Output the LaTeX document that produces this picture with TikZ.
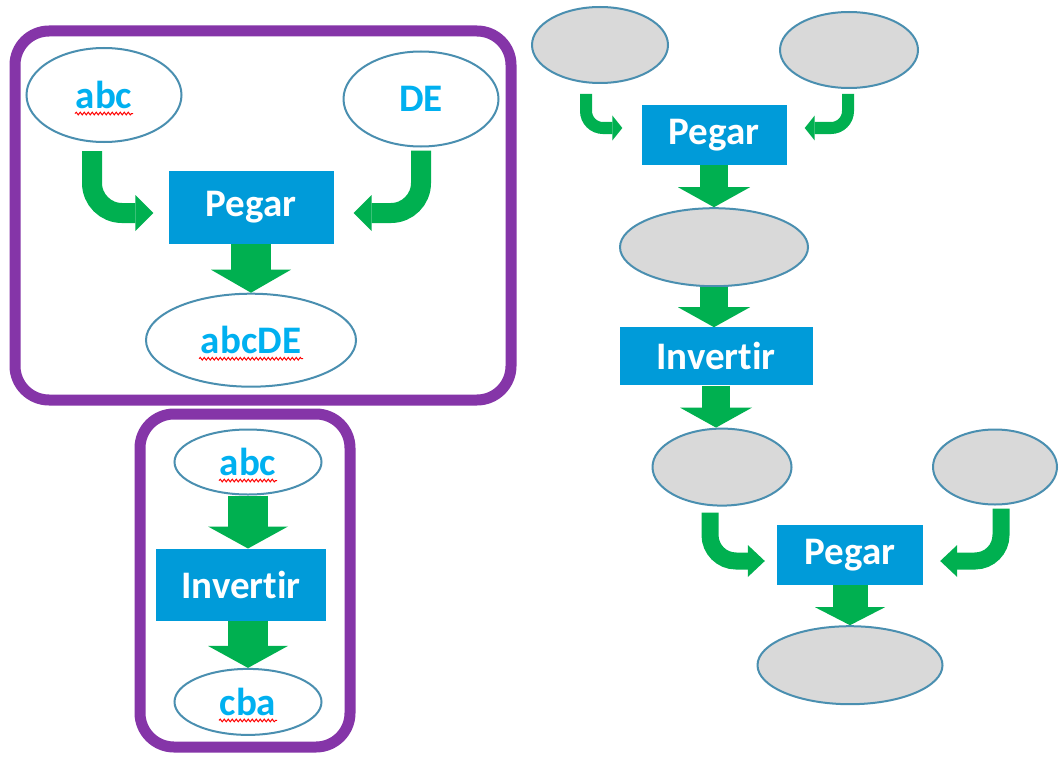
\documentclass[tikz,border=0pt]{standalone}
\usepackage{fontspec}
\setmainfont{Carlito}[Ligatures=NoCommon]
\usetikzlibrary{shapes.geometric, arrows.meta, positioning, decorations.pathmorphing}
\definecolor{frameviolet}{HTML}{8535A8}
\definecolor{boxblue}{HTML}{009BD9}
\definecolor{arrowgreen}{HTML}{00B050}
\definecolor{textcyan}{HTML}{00B0F0}
\definecolor{ovalline}{HTML}{4A8FB0}
\definecolor{ovalgrey}{HTML}{D9D9D9}

\begin{document}
\begin{tikzpicture}[
    x=1pt, y=-1pt,
    every node/.style={font=\fontsize{39}{44}\selectfont\bfseries},
    group/.style={draw=frameviolet, line width=11pt, rounded corners=34pt},
    oval/.style={ellipse, draw=ovalline, line width=2pt, fill=white, text=textcyan, inner sep=0pt},
    blank/.style={oval, fill=ovalgrey},
    process/.style={rectangle, fill=boxblue, text=white, inner sep=0pt},
    fatarrow/.style n args={3}{draw=arrowgreen, line width=#1,
        -{Triangle[length=#2 0 0, width=#3 0 0, line width=0pt 0 0]}},
    bentarrow/.style n args={4}{fatarrow={#1}{#2}{#3}, rounded corners=#4},
    spell/.style={draw=red, line width=1pt, decorate,
        decoration={snake, amplitude=1.3pt, segment length=4pt}},
]
\fill[white] (0,0) rectangle (1059,757);
\useasboundingbox (0,0) rectangle (1059,757);

% Frames
\draw[group] (15,31) rectangle (511,400);
\draw[group] (140,414) rectangle (350,747);

% Pegar example
\node[oval, minimum width=155pt, minimum height=94pt] (abcA) at (104,95) {abc};
\node[oval, minimum width=155pt, minimum height=95pt] (deA) at (421,99) {DE};
\node[process, minimum width=165pt, minimum height=73pt] (pegarA) at (251,207) {Pegar};
\node[oval, below=49pt of pegarA, minimum width=210pt, minimum height=93pt] (abcdeA) {abcDE};

% Invertir example
\node[oval, minimum width=147pt, minimum height=65pt] (abcB) at (248,462) {abc};
\node[process, below=53pt of abcB, xshift=-7pt, minimum width=170pt, minimum height=72pt] (invB) {Invertir};
\node[oval, below=47pt of invB, xshift=7pt, minimum width=147pt, minimum height=66pt] (cbaB) {cba};

% Blank chain
\node[blank, minimum width=136pt, minimum height=76pt] (topL) at (600,45) {};
\node[blank, minimum width=138pt, minimum height=76pt] (topR) at (849,50) {};
\node[process, minimum width=145pt, minimum height=60pt] (pegarC) at (714,135) {Pegar};
\node[blank, below=42pt of pegarC, minimum width=188pt, minimum height=78pt] (midC) {};
\node[process, below=40pt of midC, xshift=2pt, minimum width=193pt, minimum height=58pt] (invC) {Invertir};
\node[blank, below=42pt of invC, xshift=6pt, minimum width=139pt, minimum height=77pt] (lowL) {};
\node[blank, minimum width=124pt, minimum height=75pt] (lowR) at (995,467) {};
\node[process, minimum width=146pt, minimum height=60pt] (pegarD) at (850,555) {Pegar};
\node[blank, below=40pt of pegarD, minimum width=185pt, minimum height=78pt] (endD) {};

% Spelling marks
\draw[spell] ([xshift=-29pt,yshift=-5pt]abcA.base) -- ([xshift=29pt,yshift=-5pt]abcA.base);
\draw[spell] ([xshift=-52pt,yshift=-5pt]abcdeA.base) -- ([xshift=52pt,yshift=-5pt]abcdeA.base);
\draw[spell] ([xshift=-29pt,yshift=-5pt]abcB.base) -- ([xshift=29pt,yshift=-5pt]abcB.base);
\draw[spell] ([xshift=-29pt,yshift=-5pt]cbaB.base) -- ([xshift=29pt,yshift=-5pt]cbaB.base);

% Arrows
\draw[bentarrow={20pt}{18pt}{36pt}{30pt}, shorten <=8pt, shorten >=15pt] ([xshift=-12pt]abcA.south) |- ([yshift=-6pt]pegarA.west);
\draw[bentarrow={20pt}{18pt}{36pt}{30pt}, shorten <=3pt, shorten >=20pt] (deA.south) |- ([yshift=-6pt]pegarA.east);
\draw[fatarrow={40pt}{23pt}{80pt}] (pegarA) -- (abcdeA);

\draw[fatarrow={40pt}{22pt}{80pt}] (abcB.south) -- (abcB.south |- invB.north);
\draw[fatarrow={40pt}{22pt}{80pt}] (cbaB.north |- invB.south) -- (cbaB.north);

\draw[bentarrow={12pt}{10pt}{25pt}{17pt}, shorten <=10pt, shorten >=19pt] ([xshift=-14pt]topL.south) |- ([yshift=7pt]pegarC.west);
\draw[bentarrow={12pt}{10pt}{25pt}{17pt}, shorten <=5pt, shorten >=18pt] ([xshift=-1pt]topR.south) |- ([yshift=7pt]pegarC.east);
\draw[fatarrow={28pt}{20pt}{72pt}] (pegarC) -- (midC);
\draw[fatarrow={28pt}{20pt}{72pt}] (midC.south) -- (midC.south |- invC.north);
\draw[fatarrow={28pt}{20pt}{72pt}] (invC.south) -- (invC.south |- lowL.north);

\draw[bentarrow={17pt}{17pt}{32pt}{26pt}, shorten <=6pt, shorten >=12pt] ([xshift=-12pt]lowL.south) |- ([yshift=-6pt]pegarD.west);
\draw[bentarrow={17pt}{17pt}{32pt}{26pt}, shorten <=3pt, shorten >=17pt] ([xshift=6pt]lowR.south) |- ([yshift=-6pt]pegarD.east);
\draw[fatarrow={35pt}{18pt}{70pt}] (pegarD) -- (endD);

\end{tikzpicture}
\end{document}
